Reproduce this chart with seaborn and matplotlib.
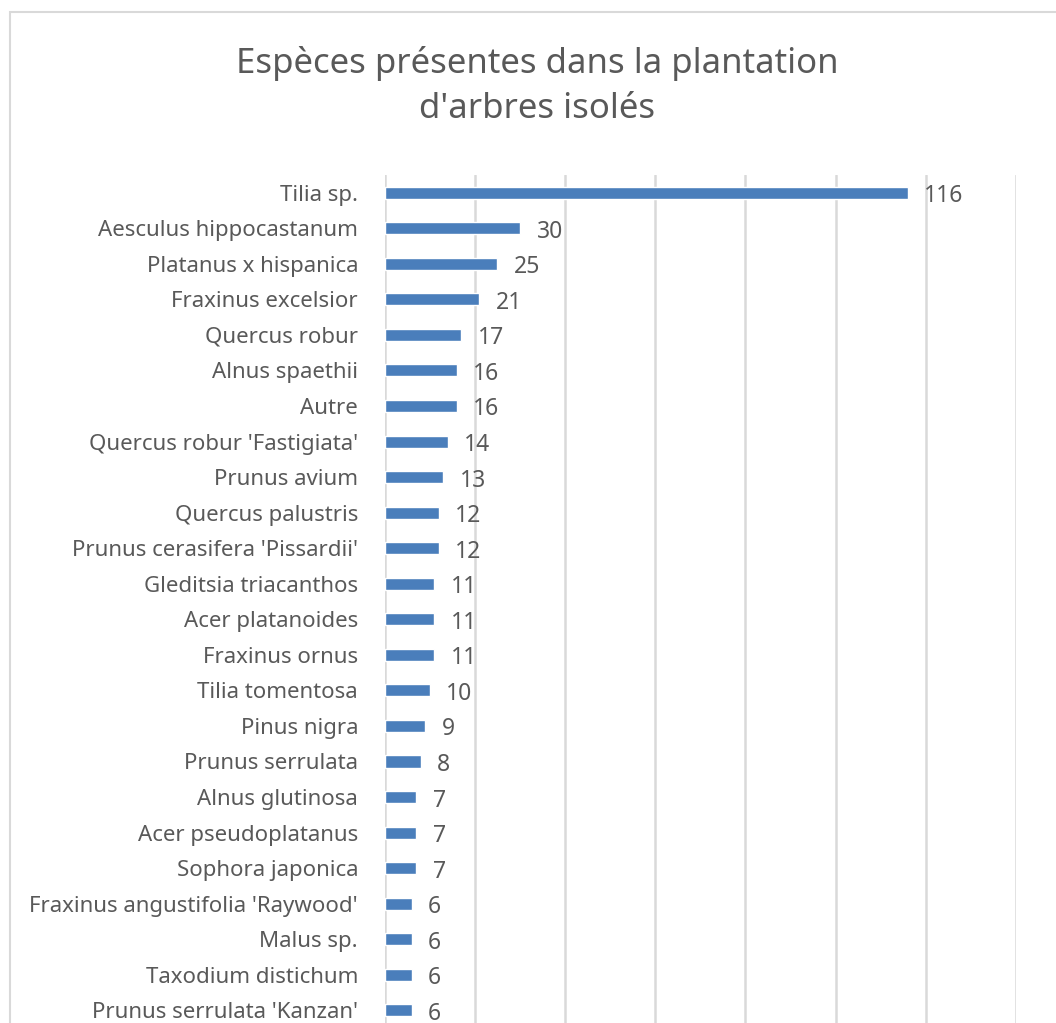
import matplotlib
matplotlib.use("Agg")
import matplotlib.pyplot as plt
import seaborn as sns
import pandas as pd
from matplotlib.patches import Rectangle

# Données
especes = [
    "Tilia sp.", "Aesculus hippocastanum", "Platanus x hispanica",
    "Fraxinus excelsior", "Quercus robur", "Alnus spaethii", "Autre",
    "Quercus robur 'Fastigiata'", "Prunus avium", "Quercus palustris",
    "Prunus cerasifera 'Pissardii'", "Gleditsia triacanthos",
    "Acer platanoides", "Fraxinus ornus", "Tilia tomentosa", "Pinus nigra",
    "Prunus serrulata", "Alnus glutinosa", "Acer pseudoplatanus",
    "Sophora japonica", "Fraxinus angustifolia 'Raywood'", "Malus sp.",
    "Taxodium distichum", "Prunus serrulata 'Kanzan'",
]
effectifs = [116, 30, 25, 21, 17, 16, 16, 14, 13, 12, 12, 11, 11, 11, 10,
             9, 8, 7, 7, 7, 6, 6, 6, 6]
graduations = [0, 20, 40, 60, 80, 100, 120, 140]

titre = "Espèces présentes dans la plantation\nd'arbres isolés"

df = pd.DataFrame({"Espece": especes, "Nombre": effectifs})

sns.set_theme(style="white")
plt.rcParams["font.family"] = ["Noto Sans", "DejaVu Sans"]

gris = "#595959"
bleu = "#4A7EBB"

fig = plt.figure(figsize=(10.56, 10.23), dpi=100)

# cadre du graphique (coupé à droite et en bas)
fig.patches.append(Rectangle((10 / 1056, -0.05), 1.1, 1 - 12 / 1023 + 0.05,
                             transform=fig.transFigure, fill=False,
                             edgecolor="#D9D9D9", linewidth=1.5))

ax = fig.add_axes([384.5 / 1056, -0.005, (1016 - 384.5) / 1056, 0.834])

sns.barplot(data=df, x="Nombre", y="Espece", orient="h", color=bleu,
            width=0.34, saturation=1, ax=ax)

ax.set_xlim(0, 140)
ax.set_ylim(len(especes) - 0.5, -0.5)
ax.set_xticks(graduations)
ax.xaxis.grid(True, color="#D9D9D9", linewidth=1.8)
ax.set_axisbelow(True)
ax.tick_params(axis="x", labelbottom=False, length=0)
ax.tick_params(axis="y", length=0, pad=19, labelsize=16, labelcolor=gris)
ax.set_xlabel("")
ax.set_ylabel("")
for s in ["top", "right", "bottom", "left"]:
    ax.spines[s].set_visible(False)

# étiquettes de valeurs
for barre, v in zip(ax.containers[0], effectifs):
    ax.annotate(str(v), (barre.get_width(), barre.get_y() + barre.get_height() / 2),
                xytext=(12, -2.5), textcoords="offset points",
                ha="left", va="center", fontsize=16.5, color=gris)

fig.text(537 / 1056, 1 - 46 / 1023, titre, ha="center", va="top",
         fontsize=25, color=gris, linespacing=1.42)

fig.savefig("out.png", dpi=100)
